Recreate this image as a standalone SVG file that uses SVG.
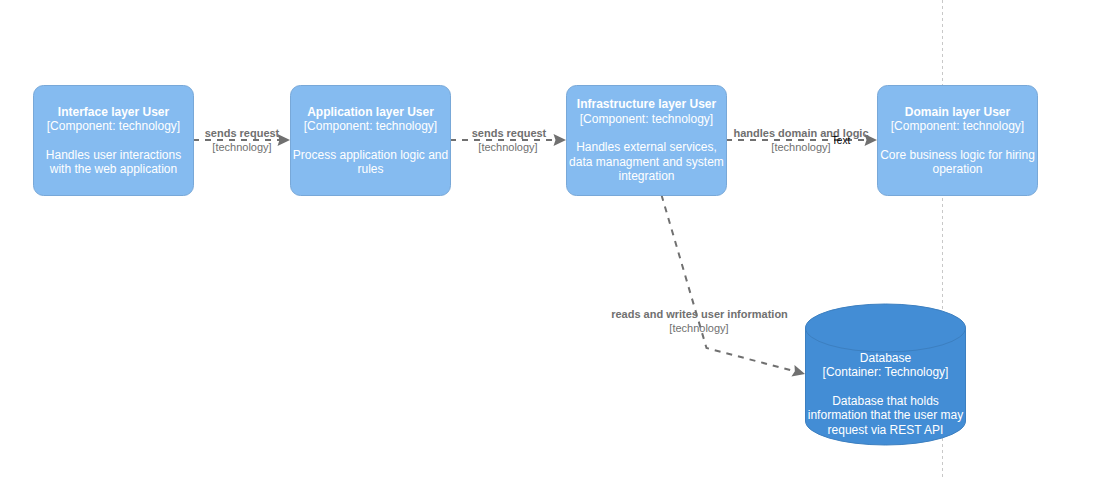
<svg xmlns="http://www.w3.org/2000/svg" width="1103" height="479" viewBox="0 0 1103 479">
<defs>
<style>
.box{fill:#85BBF0;stroke:#78A8D8;stroke-width:1}
.db{fill:#438DD5;stroke:#3C7FC0;stroke-width:1}
.t{font-family:"Liberation Sans",Arial,sans-serif;font-size:12px;fill:#FFFFFF;text-anchor:middle}
.b{font-weight:bold}
.edge{fill:none;stroke:#707070;stroke-width:2;stroke-dasharray:6 6}
.lb{font-family:"Liberation Sans",Arial,sans-serif;font-size:11px;fill:#707070;text-anchor:middle}
.sep{stroke:#C8C8C8;stroke-width:1;stroke-dasharray:3 3;fill:none}
</style>
<marker id="arr" markerUnits="userSpaceOnUse" markerWidth="16" markerHeight="16" viewBox="-1 -8 16 16" refX="4" refY="0" orient="auto">
<path d="M0,-6 L12.5,0 L0,6 L2,0 Z" fill="#707070"/>
</marker>
</defs>
<rect width="1103" height="479" fill="#FFFFFF"/>
<line class="sep" x1="942.5" y1="0" x2="942.5" y2="479"/>

<g id="connectors">
<path class="edge" d="M193,140 L281.5,140" marker-end="url(#arr)"/>
<path class="edge" d="M450,140 L557.5,140" marker-end="url(#arr)"/>
<path class="edge" d="M726,140 L868.5,140" marker-end="url(#arr)"/>
<path class="edge" d="M661.5,195 L706.5,348 L796.8,371.8" marker-end="url(#arr)"/>
<text class="lb b" x="242" y="137">sends request</text>
<text class="lb" x="242" y="151">[technology]</text>
<text class="lb b" x="509" y="137">sends request</text>
<text class="lb" x="508" y="151">[technology]</text>
<text class="lb b" x="801" y="137">handles domain and logic</text>
<text class="lb" x="801" y="151">[technology]</text>
<text x="841" y="143.5" font-family="Liberation Sans, Arial, sans-serif" font-size="10px" fill="#000000" text-anchor="middle">Text</text>
<text class="lb b" x="699.5" y="318">reads and writes user information</text>
<text class="lb" x="699" y="331.5">[technology]</text>
</g>

<g id="interface">
<rect class="box" x="33.5" y="85.5" width="160" height="110" rx="10"/>
<text class="t b" x="113.5" y="115.5">Interface layer User</text>
<text class="t" x="113.5" y="130">[Component: technology]</text>
<text class="t" x="113.5" y="158.5">Handles user interactions</text>
<text class="t" x="113.5" y="173">with the web application</text>
</g>

<g id="application">
<rect class="box" x="290.5" y="85.5" width="160" height="110" rx="10"/>
<text class="t b" x="370.5" y="115.5">Application layer User</text>
<text class="t" x="370.5" y="130">[Component: technology]</text>
<text class="t" x="370.5" y="158.5">Process application logic and</text>
<text class="t" x="370.5" y="173">rules</text>
</g>

<g id="infrastructure">
<rect class="box" x="566.5" y="85.5" width="160" height="110" rx="10"/>
<text class="t b" x="646.5" y="108">Infrastructure layer User</text>
<text class="t" x="646.5" y="122.5">[Component: technology]</text>
<text class="t" x="646.5" y="151.2">Handles external services,</text>
<text class="t" x="646.5" y="165.6">data managment and system</text>
<text class="t" x="646.5" y="180">integration</text>
</g>

<g id="domain">
<rect class="box" x="877.5" y="85.5" width="160" height="110" rx="10"/>
<text class="t b" x="957.5" y="115.5">Domain layer User</text>
<text class="t" x="957.5" y="130">[Component: technology]</text>
<text class="t" x="957.5" y="158.5">Core business logic for hiring</text>
<text class="t" x="957.5" y="173">operation</text>
</g>

<g id="database">
<path class="db" d="M805.5,328 A80,24 0 0 1 965.5,328 L965.5,421 A80,24 0 0 1 805.5,421 Z"/>
<path d="M805.5,328 A80,24 0 0 0 965.5,328" fill="none" stroke="#3C7FC0" stroke-width="1"/>
<text class="t" x="885.5" y="361.5">Database</text>
<text class="t" x="885.5" y="376">[Container: Technology]</text>
<text class="t" x="885.5" y="404.5">Database that holds</text>
<text class="t" x="885.5" y="419">information that the user may</text>
<text class="t" x="885.5" y="433.5">request via REST API</text>
</g>
</svg>
